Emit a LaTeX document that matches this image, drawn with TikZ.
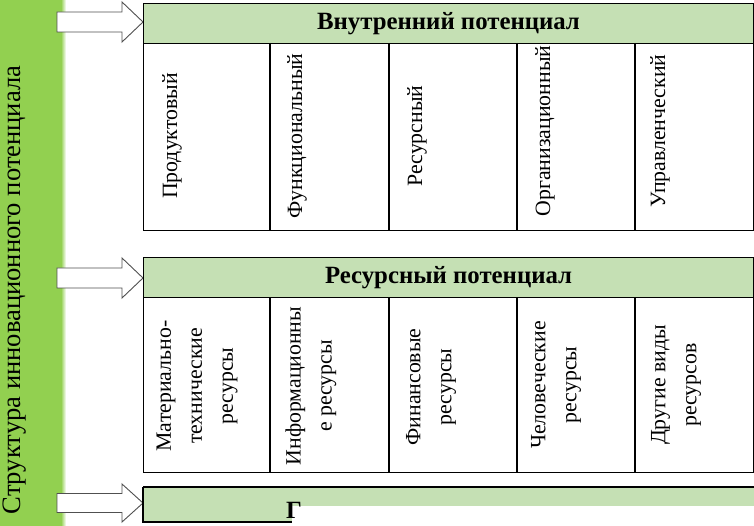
\documentclass[tikz,border=0pt]{standalone}
\usepackage{fontspec}
\setmainfont{Liberation Serif}
\definecolor{sidegreen}{HTML}{92D050}
\definecolor{headgreen}{HTML}{C5E0B4}
\definecolor{arrowgrey}{HTML}{505050}
\tikzset{
  headbox/.style={draw=black, fill=headgreen, line width=1.1pt, inner sep=0pt,
    anchor=north west, minimum width=610pt, minimum height=40pt,
    font=\fontsize{24.8}{28}\selectfont\bfseries},
  bodybox/.style={draw=black, line width=1.1pt, inner sep=0pt, anchor=north west,
    minimum width=610pt},
  divline/.style={draw=black, line width=1.1pt},
  celltext/.style={rotate=90, font=\fontsize{21.8}{31}\selectfont, align=center, inner sep=0pt},
  blockarrow/.style={draw=arrowgrey, fill=white, line width=0.9pt, line join=miter},
  sidetext/.style={rotate=90, font=\fontsize{26.6}{30}\selectfont, inner sep=0pt},
}
\begin{document}
\begin{tikzpicture}[x=1pt,y=-1pt]
\useasboundingbox (0,0) rectangle (754,526);
\fill[white] (0,0) rectangle (754,526);
% sidebar
\fill[sidegreen] (0,0) rectangle (61,526);
\shade[left color=sidegreen, right color=white] (61,0) rectangle (66,526);
\node[sidetext] (side) at (15,290) {Структура инновационного потенциала};

% block arrows
\foreach \yc/\sh/\hh in {22/10/20, 278/10/20, 503/9.5/19}{
  \draw[blockarrow] (57,\yc-\sh) -- (122,\yc-\sh) -- (122,\yc-\hh) -- (143,\yc)
     -- (122,\yc+\hh) -- (122,\yc+\sh) -- (57,\yc+\sh) -- cycle;
}

% box 1
\node[bodybox, minimum height=187pt] (b1) at (143,43) {};
\node[headbox] (h1) at (143,3) {Внутренний потенциал};
\foreach \x in {270,389,517,635}{ \draw[divline] (\x,43) -- (\x,230); }
\node[celltext] (c11) at (172,136) {Продуктовый};
\node[celltext] (c12) at (297,136) {Функциональный};
\node[celltext] (c13) at (417,136) {Ресурсный};
\node[celltext] (c14) at (545,131) {Организационный};
\node[celltext] (c15) at (660,131) {Управленческий};

% box 2
\node[bodybox, minimum height=175pt] (b2) at (143,297) {};
\node[headbox] (h2) at (143,257) {Ресурсный потенциал};
\foreach \x in {270,389,517,635}{ \draw[divline] (\x,297) -- (\x,472); }
\node[celltext] (c21) at (197,386) {Материально-\\технические\\ресурсы};
\node[celltext] (c22) at (311,386) {Информационны\\е ресурсы};
\node[celltext] (c23) at (431,387) {Финансовые\\ресурсы};
\node[celltext] (c24) at (556,385) {Человеческие\\ресурсы};
\node[celltext] (c25) at (676,385) {Другие виды\\ресурсов};

% box 3 (cut off)
\fill[headgreen] (143,487) rectangle (754,522);
\draw[divline] (143,487) -- (754,487);
\draw[divline] (143,487) -- (143,522) -- (292,522);
\fill[white] (292,506) rectangle (754,526);
\node[font=\fontsize{24.8}{28}\selectfont\bfseries, inner sep=0pt, anchor=base west] (g3) at (286,518) {Г};
\end{tikzpicture}
\end{document}
